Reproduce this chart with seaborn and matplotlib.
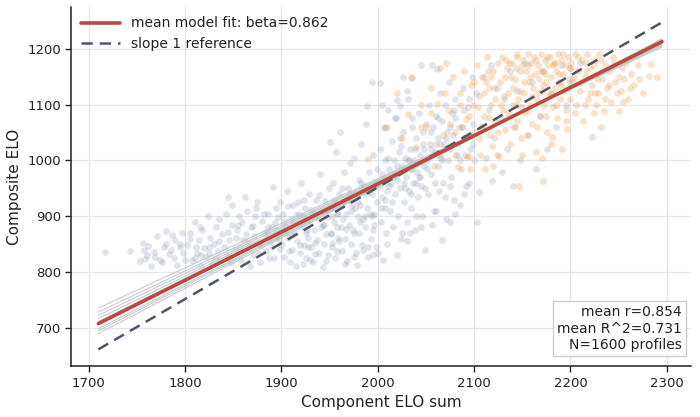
import numpy as np
import pandas as pd
import matplotlib
matplotlib.use("Agg")
import matplotlib.pyplot as plt
import seaborn as sns
from matplotlib.lines import Line2D

# ---------------- data ----------------
gray_x = [1717,1743,1756,1757,1758,1765,1769,1771,1774,1778,1783,1786,1785,1788,1792,1795,1798,1800,1776,1790,1762,1780,1797,1753,1768,
          1802,1805,1807,1810,1812,1814,1816,1818,1820,1822,1824,1826,1828,1830,1832,1834,1836,1838,1840,1842,1844,1846,1848,1849,1811,1825,1835,1845,1817,1831,1845,1849,
          1852,1854,1856,1858,1860,1862,1864,1866,1868,1870,1872,1874,1876,1878,1880,1882,1884,1886,1888,1890,1891,1892,1894,1896,1898,1899,1853,1859,1867,1873,1879,1885,1893,1857,1871,1887,1895,1863,1877,1897,
          1901,1902,1903,1905,1906,1907,1909,1910,1911,1912,1914,1915,1916,1918,1919,1920,1921,1923,1924,1925,1927,1928,1929,1931,1932,1933,1934,1936,1937,1938,1939,1940,1941,1942,1943,1944,1945,1946,1947,1948,1949,1904,1913,1922,1926,1930,1935,1908,1917,1944,
          1950,1951,1952,1953,1954,1955,1956,1957,1958,1959,1960,1961,1962,1963,1964,1965,1966,1967,1968,1969,1970,1971,1972,1973,1974,1975,1976,1977,1978,1979,1980,1981,1982,1983,1984,1985,1986,1987,1988,1989,1990,1991,1992,1993,1994,1995,1996,1997,1998,1999,1952,1958,1964,1970,1976,1982,1988,1994,1960,1972,1984,1996,
          2001,2002,2003,2004,2005,2006,2007,2008,2009,2010,2011,2012,2013,2014,2015,2016,2017,2018,2019,2020,2021,2022,2023,2024,2025,2026,2027,2028,2029,2030,2031,2032,2033,2034,2035,2036,2037,2038,2039,2040,2041,2042,2043,2044,2045,2046,2047,2048,2049,2050,2004,2012,2020,2028,2036,2044,2008,2016,2024,2032,2040,2048,
          1994,2002,2026,2036,2045,2056,2061,2030,2020,1989,2004,2023,2018,2007,2036,
          2051,2052,2053,2054,2055,2057,2058,2059,2060,2062,2063,2064,2065,2066,2067,2068,2069,2070,2071,2072,2073,2074,2075,2076,2077,2078,2079,2080,2082,2084,2086,2088,2090,2092,2094,2096,2098,2099,2055,2065,2075,2085,2095,2060,2070,2080,2090,2100,
          2102,2105,2108,2110,2112,2115,2118,2119,2121,2124,2127,2129,2131,2134,2137,2140,2142,2145,2148,2150,2153,2156,2160,2164,2168,2172,2176,2180,2185,2190,2195,2200,2222,2210,
          1882,1886,1890,1894,1898,1903,1907,1911,1915,1919,1923,1927,1931,1935,1939,1943,1947,1951,1955,1959,1963,1967,1971,1975,1979,1983,1987,1991,1995,1999,
          2003,2007,2011,2015,2019,2023,2027,2031,2035,2039,2043,2047,2051,2055,2059,2063,2067,2071,2075,2079,2083,2087,2091,2095,2099,
          2033,2049,2067,2056,2085,2103,2040,2060,2075,2090,2010,2020,2000,1990,2025,2045,2070,2095,2080,2030,
          1922,1935,1946,1958,1966,1975,1985,1995,1928,1952,
          1805,1815,1825,1835,1845,1855,1865,1875,1760,1780,1795,1810]
gray_y = [836,838,853,840,824,812,828,864,822,845,832,867,840,826,813,850,835,822,818,858,846,873,870,820,836,
          848,870,822,890,835,858,812,875,843,828,900,862,815,850,880,838,822,868,845,905,830,858,818,885,845,845,855,872,830,826,935,921,
          840,875,900,822,858,935,909,845,880,830,865,915,850,818,892,870,838,905,855,880,952,825,862,898,842,925,862,890,812,900,848,872,890,845,882,826,875,868,835,860,
          850,905,828,880,945,862,818,895,840,920,870,812,855,905,835,960,880,848,915,825,890,862,940,845,905,818,875,930,858,895,835,975,880,910,810,850,928,868,898,830,950,870,890,900,870,822,905,838,925,885,
          1033,870,915,845,960,890,825,1015,905,862,940,1051,880,838,925,980,860,905,820,950,885,995,850,920,875,1005,940,835,813,900,965,870,920,1030,848,895,955,880,1065,915,828,980,905,860,940,1010,885,960,845,925,900,880,895,930,915,890,940,900,855,910,950,905,
          955,1020,890,975,822,1060,930,1000,870,945,1090,985,910,960,1035,880,1000,940,1075,965,900,1015,950,860,990,1050,925,1005,970,890,1110,945,1020,985,915,1060,960,1000,875,1040,980,935,1085,1010,955,900,1030,990,950,1065,935,955,990,950,985,970,915,970,1025,1000,960,1020,
          1140,1139,1150,1148,1170,1171,1164,1124,1108,1097,1099,1097,1076,1058,1076,
          1000,940,1100,1030,975,1060,910,1015,1080,990,1040,945,1120,1005,1070,960,1030,1100,895,1050,1000,1140,1020,970,1085,1045,930,1110,1010,1060,985,1130,1040,955,1095,1020,1150,1065,1050,1030,1060,1000,1045,1010,1020,1075,1090,1000,
          1120,943,1060,1150,1005,1090,1170,963,1040,1130,1075,979,1110,1020,1160,954,1060,1125,1000,1095,1175,1045,1140,984,1080,1160,1020,1120,1060,1170,1100,1140,1042,1175,
          905,880,845,915,870,892,918,866,902,848,930,876,912,852,938,884,912,868,930,904,950,878,940,870,925,960,900,945,875,985,
          915,960,1005,925,975,1040,960,1000,940,1020,970,1050,985,1020,960,1075,1000,1040,955,1090,1030,1060,1010,1110,1030,
          871,840,858,885,921,889,900,910,890,940,850,830,835,845,870,880,935,960,905,855,
          815,832,820,838,815,828,840,830,845,852,
          860,880,835,895,825,885,855,925,830,850,845,825]

orange_x = [1990,2010,2020,2025,2031,2035,2040,2045,2050,2055,2058,2061,2065,2068,2071,2074,2078,2080,2083,2085,2087,2090,2092,2093,2095,2096,2097,2099,2060,2075,
            2101,2103,2105,2106,2108,2110,2111,2113,2115,2116,2118,2120,2122,2124,2126,2127,2129,2130,2132,2134,2135,2137,2139,2140,2142,2144,2145,2147,2148,2149,2104,2112,2119,2125,2131,2138,2143,2146,2107,2114,2121,2128,2133,2141,2150,
            2151,2152,2153,2154,2155,2156,2157,2158,2159,2160,2161,2162,2163,2164,2165,2166,2167,2168,2169,2170,2171,2172,2173,2174,2175,2176,2177,2178,2179,2180,2181,2182,2183,2184,2185,2186,2187,2188,2189,2190,2191,2192,2193,2194,2195,2196,2197,2198,2199,2200,2158,2166,2174,2182,2190,
            2201,2203,2205,2206,2208,2210,2212,2213,2215,2217,2218,2220,2222,2224,2225,2227,2229,2230,2232,2233,2235,2236,2238,2240,2242,2244,2246,2248,2250,2252,2254,2256,2258,2260,2263,2266,2270,2271,2275,2281,2284,2290,2216,2226,2245,
            2132,2136,2140,2144,2148,2152,2156,2160,2164,2168,2172,2176,2180,2184,2188,2192,2196,2200,2204,2208,2212,2216,2220,2224,2228,2232,2236,2240,
            2122,2118,2110,2100,2095,2085,2070,2080,2105,2115,2125,2135,2145,2155,2165,2175,2185,2195,2205,2215,2225,2250,2262,2255,2170,2150,2120,2180,2045,2055,2065,2090]
orange_y = [1002,1060,1120,1040,1083,1150,1024,1100,1060,1130,990,1101,1165,1045,1175,1090,1150,1010,988,1120,1060,1160,1074,1006,1008,984,1135,1100,1030,1065,
            1050,1170,1115,1010,1150,1080,985,1185,1130,1045,1100,1160,1070,1010,1008,1140,1185,1090,1055,1165,1120,1030,1175,1100,1145,1070,1190,954,1125,1040,1095,1140,1025,1175,1115,1150,1165,1110,1060,1160,1130,1100,1180,1060,1170,
            1180,1120,1085,1160,1045,1190,1140,1100,1175,1065,1130,1185,1155,1015,1110,1170,1145,1080,1190,1125,963,1160,1100,1180,1140,1050,1170,1115,1185,1150,1042,1095,1175,1130,1160,1075,1190,1140,1110,1180,1020,1155,1125,1170,1090,1056,1185,1145,1165,1110,1150,1120,1155,1170,1135,
            1175,1140,1190,1100,1160,1125,1180,1070,1150,1190,1110,1165,1135,1085,1180,1155,1120,1190,1060,1145,1088,1170,1130,1160,1105,1185,1140,1120,1088,1124,1165,1145,1175,1110,1155,1135,1170,1146,1120,1151,1173,1150,1175,1100,1175,
            1150,1175,1130,1185,1160,1140,1170,1115,1180,1160,1135,1185,1120,1175,1155,1190,1130,1165,1150,1185,1140,1160,1120,1170,1145,1180,1110,1135,
            1110,1150,1120,1140,1080,1100,1120,1050,1040,1075,1050,1085,1100,1090,1060,1080,1100,1070,1085,1100,1120,1150,1130,1105,1005,1010,990,1030,1060,1085,1010,1040]

mean_beta = 0.862          # mean model fit slope
mean_y_at_2000 = 958       # mean model fit value at x = 2000
boot_betas = [0.798, 0.814, 0.827, 0.841, 0.852, 0.882, 0.891, 0.902]
boot_y_at_2000 = [967.3, 964.9, 963.0, 960.9, 959.2, 954.7, 953.4, 951.7]
ref_offset = -1048          # slope-1 reference: y = x + offset
fit_x_range = [1710, 2295]
stats_text = "mean r=0.854\nmean R^2=0.731\nN=1600 profiles"

# ---------------- figure ----------------
sns.set_theme(style="white")
plt.rcParams["font.family"] = ["DejaVu Sans"]

fig = plt.figure(figsize=(7.0, 4.17), dpi=100)
ax = fig.add_axes([0.102, 0.122, 0.885, 0.862])

df = pd.DataFrame({
    "x": gray_x + orange_x,
    "y": gray_y + orange_y,
    "grp": ["lower"] * len(gray_x) + ["upper"] * len(orange_x),
})
sns.scatterplot(data=df[df.grp == "lower"], x="x", y="y", color="#8494ad",
                s=24, alpha=0.24, linewidth=0, legend=False, ax=ax, zorder=2)
sns.scatterplot(data=df[df.grp == "upper"], x="x", y="y", color="#eea050",
                s=24, alpha=0.3, linewidth=0, legend=False, ax=ax, zorder=2)

xs = np.array(fit_x_range, dtype=float)
for b, c in zip(boot_betas, boot_y_at_2000):
    ax.plot(xs, c + b * (xs - 2000), color="#b9bec7", lw=0.8, alpha=0.8, zorder=3)

ax.plot(xs, mean_y_at_2000 + mean_beta * (xs - 2000), color="#b94a3c", lw=2.6, zorder=5)
ax.plot(xs, xs + ref_offset, color="#4d5566", lw=1.8, ls=(0, (4.5, 2.8)), zorder=4)

ax.set_xlim(1682, 2325)
ax.set_ylim(632, 1275)
ax.set_xticks([1700, 1800, 1900, 2000, 2100, 2200, 2300])
ax.set_yticks([700, 800, 900, 1000, 1100, 1200])
ax.grid(True, color="#e3e6ee", lw=0.9, zorder=0)
ax.set_axisbelow(True)
for s in ["top", "right"]:
    ax.spines[s].set_visible(False)
for s in ["left", "bottom"]:
    ax.spines[s].set_color("#222222")
    ax.spines[s].set_linewidth(1.1)
ax.tick_params(axis="both", which="major", direction="out", length=4, width=1,
               color="#222222", labelsize=9.5, labelcolor="#222222", bottom=True, left=True)
ax.set_xlabel("Component ELO sum", fontsize=11, color="#222222")
ax.set_ylabel("Composite ELO", fontsize=11, color="#222222")

handles = [Line2D([0], [0], color="#b94a3c", lw=2.6),
           Line2D([0], [0], color="#4d5566", lw=1.8, ls=(0, (4.5, 2.8)))]
ax.legend(handles, [f"mean model fit: beta={mean_beta:.3f}", "slope 1 reference"],
          loc="upper left", frameon=False, fontsize=10, handlelength=2.8,
          borderaxespad=0.3, labelcolor="#222222")

ax.text(0.985, 0.04, stats_text, transform=ax.transAxes, ha="right", va="bottom",
        fontsize=10, color="#222222", linespacing=1.2, zorder=6,
        bbox=dict(boxstyle="square,pad=0.3", facecolor="white", edgecolor="#cccccc", lw=1))

fig.savefig("out.png", dpi=100)
